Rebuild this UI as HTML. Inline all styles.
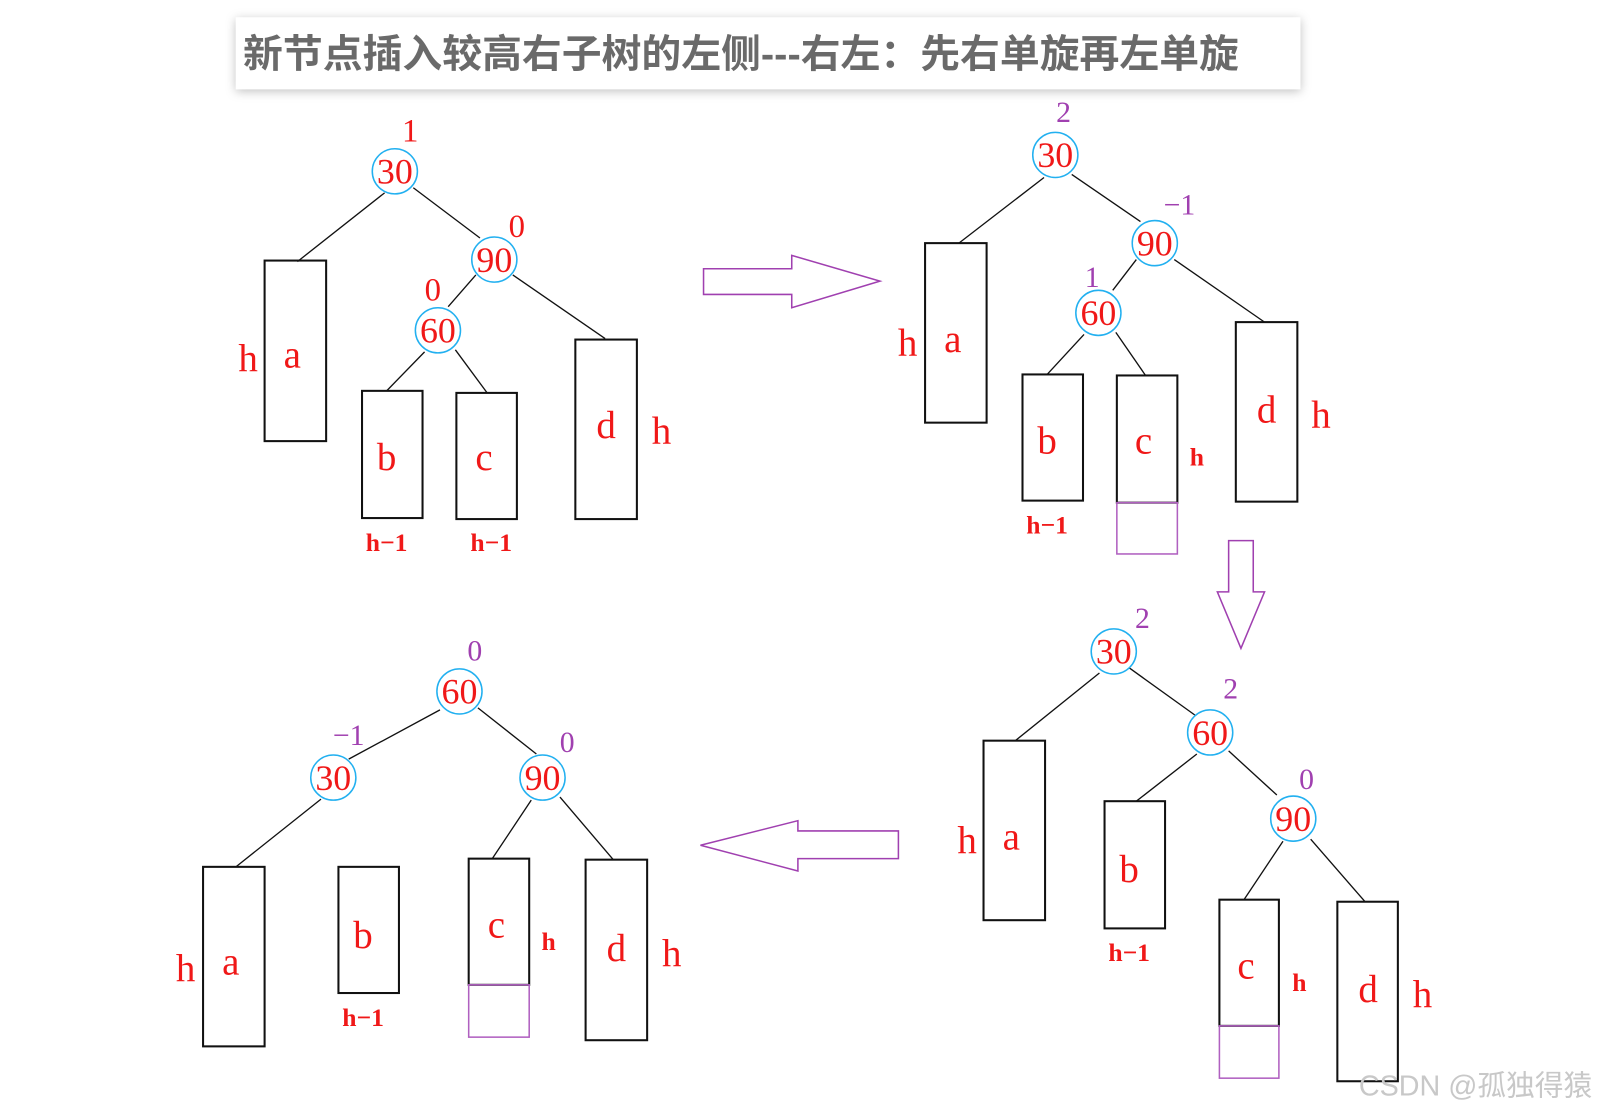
<!DOCTYPE html>
<html><head><meta charset="utf-8"><style>
html,body{margin:0;padding:0;background:#fff;}
svg{display:block;}
.n{font-family:"Liberation Serif",serif;font-size:35px;fill:#f01818;text-anchor:middle;}
.l{font-family:"Liberation Serif",serif;font-size:38px;fill:#f01818;text-anchor:middle;}
.s{font-family:"Liberation Serif",serif;font-size:25px;font-weight:bold;fill:#f01818;text-anchor:middle;}
.bf{font-family:"Liberation Serif",serif;font-size:32px;fill:#f01818;text-anchor:middle;}
.bp{font-family:"Liberation Serif",serif;font-size:29px;fill:#a040b0;text-anchor:middle;}
circle{fill:none;stroke:#22b0f0;stroke-width:1.5;}
line{stroke:#111;stroke-width:1.3;}
rect.b{fill:none;stroke:#111;stroke-width:2;}
rect.p{fill:none;stroke:#b060c0;stroke-width:1.5;}
polygon{fill:none;stroke:#a040b0;stroke-width:1.5;}
</style></head><body>
<svg width="1604" height="1111" viewBox="0 0 1564 1083" preserveAspectRatio="none">
<defs><filter id="sh" x="-5%" y="-40%" width="110%" height="180%"><feDropShadow dx="0" dy="2" stdDeviation="5" flood-color="#000" flood-opacity="0.25"/></filter></defs>
<rect x="230" y="17" width="1038" height="70" fill="#fff" filter="url(#sh)"/>
<text x="237" y="66" textLength="971" lengthAdjust="spacingAndGlyphs" font-family="'Liberation Sans','Noto Sans CJK SC',sans-serif" font-size="38" font-weight="bold" fill="#6a6a6a">新节点插入较高右子树的左侧---右左：先右单旋再左单旋</text>

<!-- Tree 1 -->
<line x1="375" y1="188" x2="290" y2="255"/><line x1="403" y1="183" x2="468" y2="232"/>
<line x1="464" y1="268" x2="437" y2="299"/><line x1="500" y1="268" x2="590" y2="330"/>
<line x1="414" y1="343" x2="377" y2="381"/><line x1="444" y1="341" x2="475" y2="383"/>
<circle cx="385" cy="167" r="22"/><circle cx="482" cy="253" r="22"/><circle cx="427" cy="322" r="22"/>
<text class="n" x="385" y="179">30</text><text class="n" x="482" y="265">90</text><text class="n" x="427" y="334">60</text>
<text class="bf" x="400" y="138">1</text><text class="bf" x="504" y="231">0</text><text class="bf" x="422" y="293">0</text>
<rect class="b" x="258" y="254" width="60" height="176"/><rect class="b" x="353" y="381" width="59" height="124"/>
<rect class="b" x="445" y="383" width="59" height="123"/><rect class="b" x="561" y="331" width="60" height="175"/>
<text class="l" x="242" y="362">h</text><text class="l" x="285" y="358">a</text>
<text class="l" x="377" y="458">b</text><text class="l" x="472" y="458">c</text>
<text class="l" x="591" y="427">d</text><text class="l" x="645" y="433">h</text>
<text class="s" x="377" y="537">h−1</text><text class="s" x="479" y="537">h−1</text>

<polygon points="686,262 772,262 772,249 858,274 772,300 772,287 686,287"/>

<!-- Tree 2 -->
<line x1="1018" y1="173" x2="935" y2="237"/><line x1="1045" y1="170" x2="1112" y2="216"/>
<line x1="1108" y1="253" x2="1085" y2="283"/><line x1="1145" y1="253" x2="1233" y2="314"/>
<line x1="1057" y1="326" x2="1021" y2="365"/><line x1="1088" y1="324" x2="1117" y2="366"/>
<circle cx="1029" cy="151" r="22"/><circle cx="1126" cy="237" r="22"/><circle cx="1071" cy="305" r="22"/>
<text class="n" x="1029" y="163">30</text><text class="n" x="1126" y="249">90</text><text class="n" x="1071" y="317">60</text>
<text class="bp" x="1037" y="119">2</text><text class="bp" x="1150" y="209">−1</text><text class="bp" x="1065" y="280">1</text>
<rect class="b" x="902" y="237" width="60" height="175"/><rect class="b" x="997" y="365" width="59" height="123"/>
<rect class="b" x="1089" y="366" width="59" height="124"/><rect class="p" x="1089" y="490" width="59" height="50"/>
<rect class="b" x="1205" y="314" width="60" height="175"/>
<text class="l" x="885" y="347">h</text><text class="l" x="929" y="343">a</text>
<text class="l" x="1021" y="442">b</text><text class="l" x="1115" y="442">c</text>
<text class="s" x="1167" y="454">h</text>
<text class="l" x="1235" y="412">d</text><text class="l" x="1288" y="417">h</text>
<text class="s" x="1021" y="520">h−1</text>

<polygon points="1198,527 1222,527 1222,577 1233,577 1210,632 1187,577 1198,577"/>

<!-- Tree 3 -->
<line x1="1072" y1="656" x2="990" y2="722"/><line x1="1101" y1="651" x2="1165" y2="697"/>
<line x1="1167" y1="735" x2="1108" y2="781"/><line x1="1198" y1="732" x2="1245" y2="775"/>
<line x1="1251" y1="820" x2="1213" y2="877"/><line x1="1278" y1="818" x2="1331" y2="879"/>
<circle cx="1086" cy="635" r="22"/><circle cx="1180" cy="714" r="22"/><circle cx="1261" cy="798" r="22"/>
<text class="n" x="1086" y="647">30</text><text class="n" x="1180" y="726">60</text><text class="n" x="1261" y="810">90</text>
<text class="bp" x="1114" y="612">2</text><text class="bp" x="1200" y="681">2</text><text class="bp" x="1274" y="769">0</text>
<rect class="b" x="959" y="722" width="60" height="175"/><rect class="b" x="1077" y="781" width="59" height="124"/>
<rect class="b" x="1189" y="877" width="58" height="123"/><rect class="p" x="1189" y="1000" width="58" height="51"/>
<rect class="b" x="1304" y="879" width="59" height="175"/>
<text class="l" x="943" y="832">h</text><text class="l" x="986" y="828">a</text>
<text class="l" x="1101" y="860">b</text><text class="l" x="1215" y="954">c</text>
<text class="s" x="1267" y="966">h</text>
<text class="l" x="1334" y="977">d</text><text class="l" x="1387" y="982">h</text>
<text class="s" x="1101" y="937">h−1</text>

<polygon points="876,810 778,810 778,800 683,824 778,849 778,837 876,837"/>

<!-- Tree 4 -->
<line x1="429" y1="692" x2="340" y2="740"/><line x1="466" y1="690" x2="523" y2="735"/>
<line x1="313" y1="779" x2="230" y2="845"/><line x1="518" y1="780" x2="480" y2="837"/>
<line x1="546" y1="777" x2="598" y2="838"/>
<circle cx="448" cy="674" r="22"/><circle cx="325" cy="758" r="22"/><circle cx="529" cy="758" r="22"/>
<text class="n" x="448" y="686">60</text><text class="n" x="325" y="770">30</text><text class="n" x="529" y="770">90</text>
<text class="bp" x="463" y="644">0</text><text class="bp" x="340" y="726">−1</text><text class="bp" x="553" y="733">0</text>
<rect class="b" x="198" y="845" width="60" height="175"/><rect class="b" x="330" y="845" width="59" height="123"/>
<rect class="b" x="457" y="837" width="59" height="123"/><rect class="p" x="457" y="960" width="59" height="51"/>
<rect class="b" x="571" y="838" width="60" height="176"/>
<text class="l" x="181" y="957">h</text><text class="l" x="225" y="950">a</text>
<text class="l" x="354" y="924">b</text><text class="l" x="484" y="914">c</text>
<text class="s" x="535" y="926">h</text>
<text class="l" x="601" y="937">d</text><text class="l" x="655" y="942">h</text>
<text class="s" x="354" y="1000">h−1</text>

<text x="1325" y="1068" font-family="'Liberation Sans','Noto Sans CJK SC',sans-serif" font-size="28" fill="#c8c8c8">CSDN @孤独得猿</text>
</svg>
</body></html>
